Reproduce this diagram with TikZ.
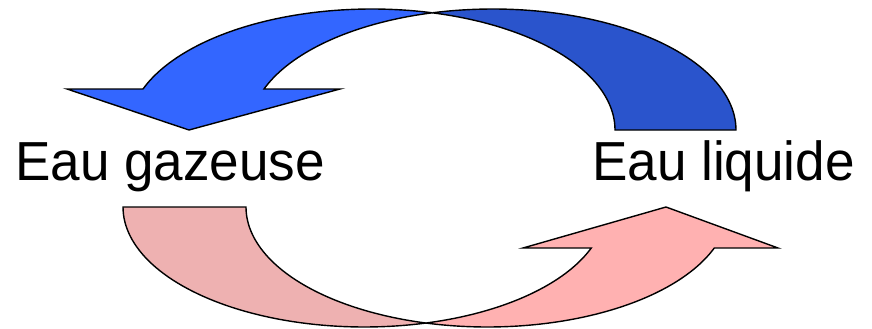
\documentclass[tikz,border=0pt]{standalone}
\usepackage{graphicx}
\usepackage{fontspec}
\setmainfont{Liberation Sans}
\definecolor{blueA}{HTML}{3366FF}
\definecolor{blueB}{HTML}{2A54CC}
\definecolor{pinkA}{HTML}{EEB1B1}
\definecolor{pinkB}{HTML}{FFB1B1}
\newcommand{\narrowtxt}[1]{\scalebox{0.965}[1]{#1}}
\begin{document}
\begin{tikzpicture}[x=1pt,y=-1pt]
\tikzset{piece/.style={draw=black,line width=1.4pt},
  lbl/.style={inner sep=0pt,anchor=base west,font=\fontsize{55}{60}\selectfont}}
\useasboundingbox (0,0) rectangle (872,329);
% top arrow, dark back part
\filldraw[piece,fill=blueB] plot[domain=360:255.6,samples=60] ({492.8+243.2*cos(\x)},{130+121*sin(\x)})
  -- plot[domain=284.4:360,samples=60] ({371.8+243.2*cos(\x)},{130+121*sin(\x)}) -- cycle;
% top arrow, front part with head
\filldraw[piece,fill=blueA] plot[domain=199.8:284.4,samples=60] ({371.8+243.2*cos(\x)},{130+121*sin(\x)})
  -- plot[domain=255.6:199.8,samples=60] ({492.8+243.2*cos(\x)},{130+121*sin(\x)})
  -- (340,89) -- (189,130) -- (67,89) -- cycle;
% bottom arrow, darker back part
\filldraw[piece,fill=pinkA] plot[domain=180:75.2,samples=60] ({364.4+241.4*cos(\x)},{207+120*sin(\x)})
  -- plot[domain=104.8:180,samples=60] ({487.4+241.4*cos(\x)},{207+120*sin(\x)}) -- cycle;
% bottom arrow, front part with head
\filldraw[piece,fill=pinkB] plot[domain=75.2:20,samples=60] ({364.4+241.4*cos(\x)},{207+120*sin(\x)})
  -- (523,248) -- (666,207) -- (778,248)
  -- plot[domain=20:104.8,samples=60] ({487.4+241.4*cos(\x)},{207+120*sin(\x)}) -- cycle;
\node[lbl] (gaz) at (15,180) {\narrowtxt{Eau gazeuse}};
\node[lbl] (liq) at (592,180) {\narrowtxt{Eau liquide}};
\end{tikzpicture}
\end{document}
